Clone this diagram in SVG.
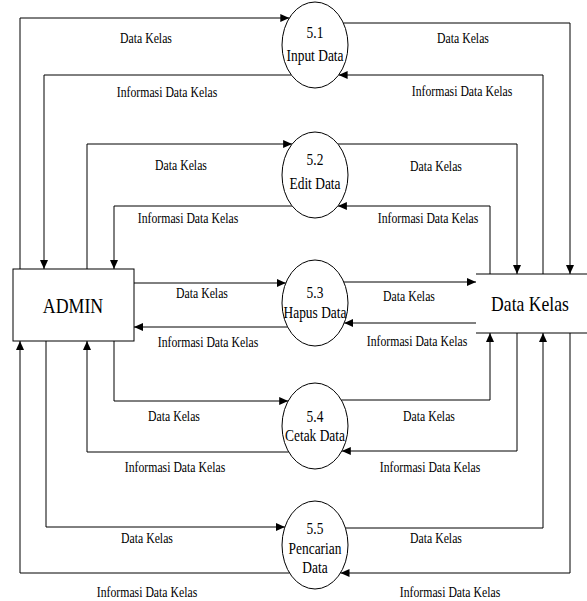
<svg xmlns="http://www.w3.org/2000/svg" width="587" height="601" viewBox="0 0 587 601">
<style>
text{font-family:"Liberation Serif","Times New Roman",serif;fill:#000;text-anchor:middle}
.lb{font-size:14px}
.pc{font-size:16px}
.big{font-size:21px}
.c{fill:none;stroke:#000;stroke-width:1;marker-end:url(#ah)}
.shape{fill:#fff;stroke:#000;stroke-width:1}
</style>
<defs>
<marker id="ah" markerUnits="userSpaceOnUse" markerWidth="10" markerHeight="8" refX="9" refY="4" orient="auto">
<path d="M0,0 L9,4 L0,8 z" fill="#000"/>
</marker>
</defs>
<rect width="587" height="601" fill="#fff"/>
<g id="connectors">
<path class="c" d="M20,269 V18 H289.3"/>
<path class="c" d="M291.4,75 H44 V269"/>
<path class="c" d="M87,269 V144 H292.1"/>
<path class="c" d="M292.1,206 H114 V269"/>
<path class="c" d="M134,283 H285.8"/>
<path class="c" d="M287.6,327 H134"/>
<path class="c" d="M114,341 V401 H288.2"/>
<path class="c" d="M288.7,452 H87 V341"/>
<path class="c" d="M46,341 V527 H284.9"/>
<path class="c" d="M289.5,573 H20 V341"/>
<path class="c" d="M343.4,23 H570 V274"/>
<path class="c" d="M543,274 V75 H338.6"/>
<path class="c" d="M337.9,144 H517 V274"/>
<path class="c" d="M490,274 V206 H337.9"/>
<path class="c" d="M343.8,282 H476"/>
<path class="c" d="M476,323 H344.2"/>
<path class="c" d="M341.3,400 H490 V333"/>
<path class="c" d="M517,333 V451 H341.8"/>
<path class="c" d="M345.4,528 H543 V333"/>
<path class="c" d="M570,333 V573 H340.5"/>
<text class="lb" transform="translate(146,43) scale(0.84,1)">Data Kelas</text>
<text class="lb" transform="translate(167,97) scale(0.84,1)">Informasi Data Kelas</text>
<text class="lb" transform="translate(463,43) scale(0.84,1)">Data Kelas</text>
<text class="lb" transform="translate(462,96) scale(0.84,1)">Informasi Data Kelas</text>
<text class="lb" transform="translate(181,170) scale(0.84,1)">Data Kelas</text>
<text class="lb" transform="translate(188,223) scale(0.84,1)">Informasi Data Kelas</text>
<text class="lb" transform="translate(436,171) scale(0.84,1)">Data Kelas</text>
<text class="lb" transform="translate(428,223) scale(0.84,1)">Informasi Data Kelas</text>
<text class="lb" transform="translate(202,298) scale(0.84,1)">Data Kelas</text>
<text class="lb" transform="translate(208,347) scale(0.84,1)">Informasi Data Kelas</text>
<text class="lb" transform="translate(409,301) scale(0.84,1)">Data Kelas</text>
<text class="lb" transform="translate(417,346) scale(0.84,1)">Informasi Data Kelas</text>
<text class="lb" transform="translate(174,421) scale(0.84,1)">Data Kelas</text>
<text class="lb" transform="translate(175,472) scale(0.84,1)">Informasi Data Kelas</text>
<text class="lb" transform="translate(429,421) scale(0.84,1)">Data Kelas</text>
<text class="lb" transform="translate(430,472) scale(0.84,1)">Informasi Data Kelas</text>
<text class="lb" transform="translate(147,543) scale(0.84,1)">Data Kelas</text>
<text class="lb" transform="translate(147,597) scale(0.84,1)">Informasi Data Kelas</text>
<text class="lb" transform="translate(436,543) scale(0.84,1)">Data Kelas</text>
<text class="lb" transform="translate(450,597) scale(0.84,1)">Informasi Data Kelas</text>
</g>
<g id="admin">
<rect class="shape" x="13" y="269" width="121" height="72"/>
<text class="big" transform="translate(73,313) scale(0.85,1)">ADMIN</text>
</g>
<g id="datakelas">
<path d="M476,274 H587 M476,333 H587" stroke="#000" stroke-width="1" fill="none"/>
<text class="big" transform="translate(530,311) scale(0.84,1)">Data Kelas</text>
</g>
<g id="p51">
<ellipse class="shape" cx="315" cy="45" rx="33" ry="43"/>
<text class="pc" transform="translate(315,38) scale(0.84,1)">5.1</text>
<text class="pc" transform="translate(315,61) scale(0.84,1)">Input Data</text>
</g>
<g id="p52">
<ellipse class="shape" cx="315" cy="175" rx="33" ry="43"/>
<text class="pc" transform="translate(315,165) scale(0.84,1)">5.2</text>
<text class="pc" transform="translate(315,189) scale(0.84,1)">Edit Data</text>
</g>
<g id="p53">
<ellipse class="shape" cx="315" cy="303" rx="33" ry="43"/>
<text class="pc" transform="translate(315,298) scale(0.84,1)">5.3</text>
<text class="pc" transform="translate(315,318) scale(0.84,1)">Hapus Data</text>
</g>
<g id="p54">
<ellipse class="shape" cx="315" cy="426" rx="33" ry="43"/>
<text class="pc" transform="translate(315,422) scale(0.84,1)">5.4</text>
<text class="pc" transform="translate(315,441) scale(0.84,1)">Cetak Data</text>
</g>
<g id="p55">
<ellipse class="shape" cx="315" cy="545" rx="33" ry="44"/>
<text class="pc" transform="translate(315,534) scale(0.84,1)">5.5</text>
<text class="pc" transform="translate(315,554) scale(0.84,1)">Pencarian</text>
<text class="pc" transform="translate(315,573) scale(0.84,1)">Data</text>
</g>
</svg>
